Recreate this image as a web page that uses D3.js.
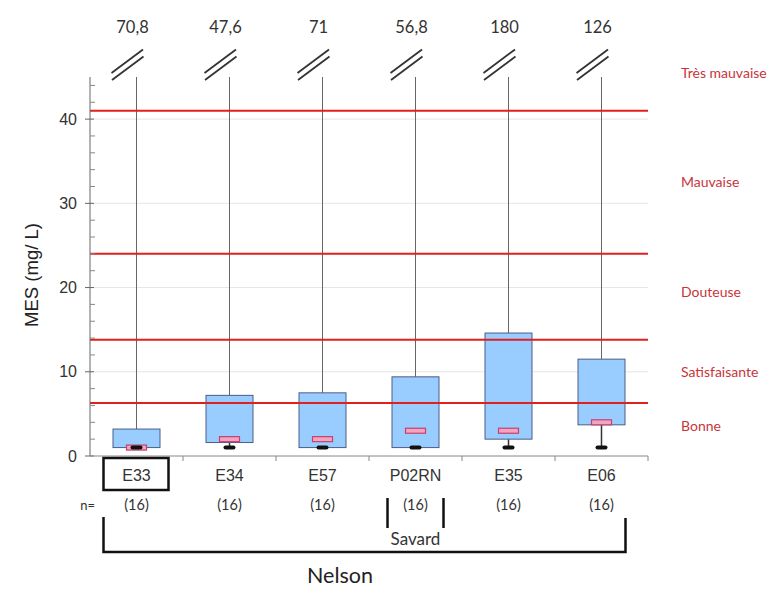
<!DOCTYPE html>
<html>
<head>
<meta charset="utf-8">
<script src="https://cdn.jsdelivr.net/npm/d3@7"></script>
<style>
  body { margin: 0; background: #fff; }
  svg { display: block; }
</style>
</head>
<body>
<svg id="chart" width="776" height="589"></svg>
<script>
// Stations and box statistics for MES (mg/L)
const stations = ["E33", "E34", "E57", "P02RN", "E35", "E06"];
const counts = [16, 16, 16, 16, 16, 16];
const minima = [1.0, 1.0, 1.0, 1.0, 1.0, 1.0];
const q1 = [1.0, 1.6, 1.0, 1.0, 2.0, 3.7];
const medians = [1.0, 2.0, 2.0, 3.0, 3.0, 4.0];
const q3 = [3.2, 7.2, 7.5, 9.4, 14.6, 11.5];
const maxima = ["70,8", "47,6", "71", "56,8", "180", "126"];

// Quality class thresholds and labels
const thresholds = [6.3, 13.8, 24, 41];
const classNames = ["Bonne", "Satisfaisante", "Douteuse", "Mauvaise", "Très mauvaise"];
const classLabelY = [3.6, 10, 19.5, 32.5, 45.5];

const yTicks = [0, 10, 20, 30, 40];

(function draw() {
  const svg = d3.select("#chart");
  const mLeft = 90, mRight = 648, mTop = 77, mBottom = 456;

  const x = d3.scaleBand().domain(stations).range([mLeft, mRight]).padding(0);
  const y = d3.scaleLinear().domain([0, 45]).range([mBottom, mTop]);
  const cx = d => x(d) + x.bandwidth() / 2;
  const boxW = 47;

  const calibri = "Lato, 'Open Sans', sans-serif";
  const arial = "'Liberation Sans', Arial, sans-serif";

  // Light gridlines
  svg.append("g").selectAll("line").data(yTicks.slice(1)).join("line")
    .attr("x1", mLeft).attr("x2", mRight)
    .attr("y1", d => y(d)).attr("y2", d => y(d))
    .attr("stroke", "#e6e6e6").attr("stroke-width", 1);

  // Whiskers up to the (broken) maximum
  svg.append("g").selectAll("line").data(stations).join("line")
    .attr("x1", cx).attr("x2", cx)
    .attr("y1", mTop).attr("y2", (d, i) => y(q3[i]))
    .attr("stroke", "#666").attr("stroke-width", 1);

  // Lower whiskers
  svg.append("g").selectAll("line").data(stations).join("line")
    .attr("x1", cx).attr("x2", cx)
    .attr("y1", (d, i) => y(q1[i])).attr("y2", (d, i) => y(minima[i]))
    .attr("stroke", "#333").attr("stroke-width", 1.5);

  // Boxes
  svg.append("g").selectAll("rect").data(stations).join("rect")
    .attr("x", d => cx(d) - boxW / 2)
    .attr("y", (d, i) => y(q3[i]))
    .attr("width", boxW)
    .attr("height", (d, i) => y(q1[i]) - y(q3[i]))
    .attr("fill", "#99ccff")
    .attr("stroke", "#4b5d86").attr("stroke-width", 1);

  // Median markers
  svg.append("g").selectAll("rect").data(stations).join("rect")
    .attr("x", d => cx(d) - 10)
    .attr("y", (d, i) => y(medians[i]) - 2.5)
    .attr("width", 20).attr("height", 5)
    .attr("fill", "#eea6c4")
    .attr("stroke", "#c8406c").attr("stroke-width", 1.2);

  // Minimum markers
  svg.append("g").selectAll("rect").data(stations).join("rect")
    .attr("x", d => cx(d) - 6)
    .attr("y", (d, i) => y(minima[i]) - 2)
    .attr("width", 12).attr("height", 4).attr("rx", 2)
    .attr("fill", "#111");

  // Class threshold lines
  svg.append("g").selectAll("line").data(thresholds).join("line")
    .attr("x1", mLeft).attr("x2", mRight)
    .attr("y1", d => y(d)).attr("y2", d => y(d))
    .attr("stroke", "#e0201c").attr("stroke-width", 2);

  // Class labels
  svg.append("g").selectAll("text").data(classNames).join("text")
    .attr("x", 681)
    .attr("y", (d, i) => y(classLabelY[i]))
    .attr("dy", "0.35em")
    .attr("font-family", calibri).attr("font-size", 14)
    .attr("fill", "#c8353b")
    .text(d => d);

  // Y axis
  const yAxis = svg.append("g").attr("transform", `translate(${mLeft},0)`);
  yAxis.append("line").attr("x1", 0).attr("x2", 0).attr("y1", mTop).attr("y2", mBottom)
    .attr("stroke", "#666");
  const minor = d3.range(0, 45, 2).filter(v => v % 10 !== 0);
  yAxis.selectAll("line.minor").data(minor).join("line").attr("class", "minor")
    .attr("x1", 0).attr("x2", 5).attr("y1", d => y(d)).attr("y2", d => y(d))
    .attr("stroke", "#888");
  yAxis.selectAll("line.major").data(yTicks).join("line").attr("class", "major")
    .attr("x1", -5).attr("x2", 4).attr("y1", d => y(d)).attr("y2", d => y(d))
    .attr("stroke", "#666");
  yAxis.selectAll("text").data(yTicks).join("text")
    .attr("x", -13).attr("y", d => y(d)).attr("dy", "0.35em")
    .attr("text-anchor", "end")
    .attr("font-family", arial).attr("font-size", 16).attr("fill", "#333")
    .text(d => d);

  svg.append("text")
    .attr("transform", `translate(32,275) rotate(-90)`)
    .attr("dy", "0.35em")
    .attr("text-anchor", "middle")
    .attr("font-family", arial).attr("font-size", 18.5).attr("fill", "#222")
    .text("MES (mg/ L)");

  // X axis
  svg.append("line").attr("x1", mLeft).attr("x2", mRight).attr("y1", mBottom).attr("y2", mBottom)
    .attr("stroke", "#888");
  svg.append("g").selectAll("line").data(stations).join("line")
    .attr("x1", d => x(d) + x.bandwidth()).attr("x2", d => x(d) + x.bandwidth())
    .attr("y1", mBottom).attr("y2", mBottom + 5)
    .attr("stroke", "#888");

  // Station labels and counts
  svg.append("g").selectAll("text").data(stations).join("text")
    .attr("x", cx).attr("y", 475).attr("dy", "0.35em")
    .attr("text-anchor", "middle")
    .attr("font-family", arial).attr("font-size", 16).attr("fill", "#333")
    .text(d => d);

  svg.append("g").selectAll("text").data(stations).join("text")
    .attr("x", cx).attr("y", 505).attr("dy", "0.35em")
    .attr("text-anchor", "middle")
    .attr("font-family", calibri).attr("font-size", 14.5).attr("fill", "#333")
    .text((d, i) => `(${counts[i]})`);

  svg.append("text").attr("x", 95).attr("y", 505).attr("dy", "0.35em")
    .attr("text-anchor", "end")
    .attr("font-family", calibri).attr("font-size", 13).attr("fill", "#333")
    .text("n=");

  // Highlight box around the first station label
  svg.append("rect")
    .attr("x", cx("E33") - 33).attr("y", 458)
    .attr("width", 65).attr("height", 32)
    .attr("fill", "none").attr("stroke", "#111").attr("stroke-width", 2.5);

  // Maximum values above broken whiskers
  svg.append("g").selectAll("text").data(stations).join("text")
    .attr("x", d => cx(d) - 4).attr("y", 27).attr("dy", "0.35em")
    .attr("text-anchor", "middle")
    .attr("font-family", calibri).attr("font-size", 16.5).attr("fill", "#333")
    .text((d, i) => maxima[i]);

  // Axis break marks
  const breaks = svg.append("g").selectAll("g").data(stations).join("g")
    .attr("transform", d => `translate(${cx(d)},0)`);
  breaks.append("line").attr("x1", -25).attr("y1", 73).attr("x2", 6.5).attr("y2", 49.5)
    .attr("stroke", "#333").attr("stroke-width", 1.8);
  breaks.append("line").attr("x1", -24.5).attr("y1", 80).attr("x2", 7).attr("y2", 56.5)
    .attr("stroke", "#333").attr("stroke-width", 1.8);

  // Savard group bracket
  const sav = cx("P02RN");
  svg.append("path")
    .attr("d", `M${sav - 28},498 V528 M${sav + 28},498 V528`)
    .attr("stroke", "#111").attr("stroke-width", 2.5).attr("fill", "none");
  svg.append("text").attr("x", sav).attr("y", 539).attr("dy", "0.35em")
    .attr("text-anchor", "middle")
    .attr("font-family", calibri).attr("font-size", 17).attr("fill", "#333")
    .text("Savard");

  // Nelson group bracket
  const nl = cx("E33") - 33, nr = cx("E06") + 24;
  svg.append("path")
    .attr("d", `M${nl},517 V552 H${nr} V518`)
    .attr("stroke", "#111").attr("stroke-width", 2.5).attr("fill", "none");
  svg.append("text").attr("x", 340).attr("y", 575).attr("dy", "0.35em")
    .attr("text-anchor", "middle")
    .attr("font-family", calibri).attr("font-size", 21.5).attr("fill", "#222")
    .text("Nelson");
})();
</script>
</body>
</html>
